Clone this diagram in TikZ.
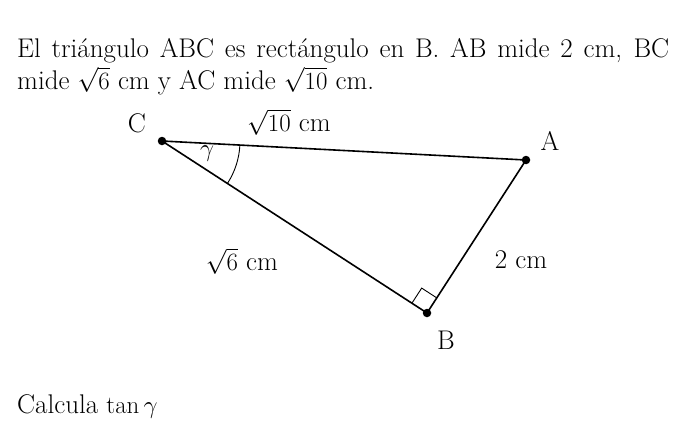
\documentclass[tikz,border=0pt]{standalone}
\usetikzlibrary{calc}
\tikzset{
  side/.style={line width=1.6pt},
  pt/.style={circle,fill=black,inner sep=0pt,minimum size=8.5pt},
  lbl/.style={inner sep=0pt,font=\fontsize{27}{30}\selectfont},
  txt/.style={inner sep=0pt,anchor=base west,font=\fontsize{27}{32}\selectfont},
}
\begin{document}
\begin{tikzpicture}[x=1pt,y=-1pt]
\useasboundingbox (0,0) rectangle (687,423);
\node[txt] (l1) at (17,57) {\makebox[652pt][s]{El triángulo ABC es rectángulo en B. AB mide 2 cm, BC}};
\node[txt] (l2) at (17,89) {mide $\sqrt{6}$ cm y AC mide $\sqrt{10}$ cm.};
\node[pt] (C) at (162,141) {};
\node[pt] (A) at (526,160) {};
\node[pt] (B) at (427,313) {};
\draw[side] (C.center) -- (A.center) -- (B.center) -- cycle;
% angle arc
\draw[line width=0.9pt] ($(C.center)!78pt!(A.center)$) arc[start angle={-atan2(19,364)}, end angle={-atan2(172,265)}, radius=78pt];
% right angle
\coordinate (r1) at ($(B.center)!18pt!(C.center)$);
\coordinate (r2) at ($(B.center)!18pt!(A.center)$);
\draw[line width=0.9pt] (r1) -- ($(r1)+(r2)-(B.center)$) -- (r2);
\node[lbl] (lC) at (137,123) {C};
\node[lbl] (lA) at (550,141) {A};
\node[lbl] (lB) at (446,340) {B};
\node[lbl] (lAC) at (289,122) {$\sqrt{10}$ cm};
\node[lbl] (lBC) at (242,261) {$\sqrt{6}$ cm};
\node[lbl] (lAB) at (521,260) {2 cm};
\node[lbl] (g) at (207,154) {$\gamma$};
\node[txt] (q) at (17,413) {Calcula $\tan\gamma$};
\end{tikzpicture}
\end{document}
